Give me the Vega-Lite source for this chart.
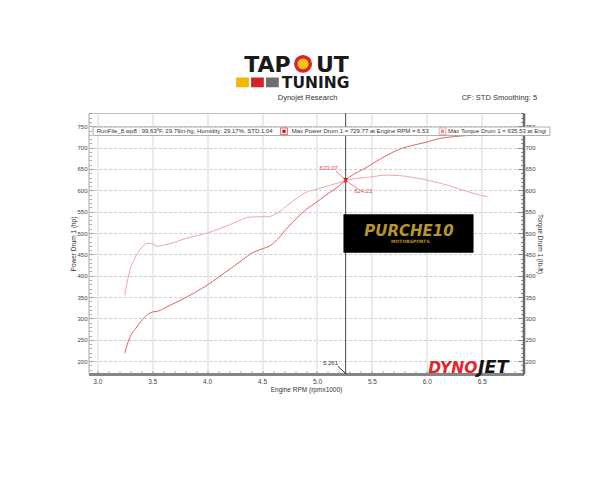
{
  "$schema": "https://vega.github.io/schema/vega-lite/v6.json",
  "width": 435,
  "height": 261,
  "autosize": "none",
  "padding": {"left": 88.5, "top": 113, "right": 76.5, "bottom": 109},
  "background": "white",
  "config": {"view": {"stroke": "#c4c4c4", "strokeWidth": 1}, "font": "Liberation Sans"},
  "datasets": {
    "power": [
      {"rpm": 3.25, "hp": 219}, {"rpm": 3.29, "hp": 252}, {"rpm": 3.36, "hp": 280}, {"rpm": 3.43, "hp": 303},
      {"rpm": 3.5, "hp": 315}, {"rpm": 3.55, "hp": 317}, {"rpm": 3.64, "hp": 328}, {"rpm": 3.76, "hp": 343},
      {"rpm": 3.89, "hp": 361}, {"rpm": 4.0, "hp": 378}, {"rpm": 4.1, "hp": 396}, {"rpm": 4.22, "hp": 418},
      {"rpm": 4.31, "hp": 435}, {"rpm": 4.4, "hp": 452}, {"rpm": 4.49, "hp": 462}, {"rpm": 4.57, "hp": 470},
      {"rpm": 4.64, "hp": 485}, {"rpm": 4.73, "hp": 512}, {"rpm": 4.82, "hp": 536}, {"rpm": 4.9, "hp": 555},
      {"rpm": 5.0, "hp": 573}, {"rpm": 5.11, "hp": 594}, {"rpm": 5.2, "hp": 610}, {"rpm": 5.261, "hp": 624.22},
      {"rpm": 5.33, "hp": 637}, {"rpm": 5.42, "hp": 649}, {"rpm": 5.51, "hp": 663}, {"rpm": 5.63, "hp": 681},
      {"rpm": 5.75, "hp": 696}, {"rpm": 5.9, "hp": 707}, {"rpm": 6.0, "hp": 713}, {"rpm": 6.11, "hp": 721},
      {"rpm": 6.26, "hp": 726}, {"rpm": 6.42, "hp": 729}, {"rpm": 6.53, "hp": 729.77}, {"rpm": 6.55, "hp": 729.5}
    ],
    "torque": [
      {"rpm": 3.25, "tq": 354}, {"rpm": 3.28, "tq": 395}, {"rpm": 3.3, "tq": 415}, {"rpm": 3.34, "tq": 440},
      {"rpm": 3.4, "tq": 465}, {"rpm": 3.46, "tq": 476}, {"rpm": 3.5, "tq": 475}, {"rpm": 3.55, "tq": 469},
      {"rpm": 3.61, "tq": 472}, {"rpm": 3.7, "tq": 478}, {"rpm": 3.79, "tq": 486}, {"rpm": 3.89, "tq": 493},
      {"rpm": 4.0, "tq": 500}, {"rpm": 4.1, "tq": 509}, {"rpm": 4.22, "tq": 521}, {"rpm": 4.31, "tq": 531},
      {"rpm": 4.37, "tq": 537}, {"rpm": 4.46, "tq": 538}, {"rpm": 4.55, "tq": 538}, {"rpm": 4.64, "tq": 547},
      {"rpm": 4.73, "tq": 565}, {"rpm": 4.82, "tq": 582}, {"rpm": 4.9, "tq": 595}, {"rpm": 5.0, "tq": 603},
      {"rpm": 5.11, "tq": 611}, {"rpm": 5.2, "tq": 618}, {"rpm": 5.261, "tq": 623.07}, {"rpm": 5.36, "tq": 628},
      {"rpm": 5.48, "tq": 631}, {"rpm": 5.63, "tq": 635.53}, {"rpm": 5.75, "tq": 634.5}, {"rpm": 5.9, "tq": 629},
      {"rpm": 6.05, "tq": 621}, {"rpm": 6.2, "tq": 611}, {"rpm": 6.36, "tq": 598}, {"rpm": 6.45, "tq": 591},
      {"rpm": 6.55, "tq": 585}
    ]
  },
  "layer": [
    {
      "data": {"name": "power"},
      "mark": {"type": "line", "color": "#e06262", "strokeWidth": 1, "interpolate": "monotone"},
      "encoding": {
        "x": {
          "field": "rpm", "type": "quantitative",
          "scale": {"domain": [2.92, 6.88], "nice": false, "zero": false},
          "axis": {
            "orient": "bottom",
            "values": [3.0,3.1,3.2,3.3,3.4,3.5,3.6,3.7,3.8,3.9,4.0,4.1,4.2,4.3,4.4,4.5,4.6,4.7,4.8,4.9,5.0,5.1,5.2,5.3,5.4,5.5,5.6,5.7,5.8,5.9,6.0,6.1,6.2,6.3,6.4,6.5,6.6,6.7,6.8],
            "tickCount": 200,
            "format": ".1f",
            "labelExpr": "abs(datum.value * 2 - round(datum.value * 2)) < 0.01 ? datum.label : ''",
            "labelOverlap": false, "labelFlush": false,
            "labelFontSize": 6.5, "labelColor": "#444", "labelPadding": 7,
            "tickSize": -3, "tickColor": "#777", "tickWidth": 0.8,
            "domainColor": "#858585", "domainWidth": 3,
            "grid": true, "gridColor": "#d6d6d6", "gridWidth": 1,
            "gridOpacity": {"condition": {"test": "abs(datum.value * 2 - round(datum.value * 2)) < 0.01", "value": 1}, "value": 0},
            "title": "Engine RPM (rpmx1000)", "titleFontSize": 6.5, "titleFontWeight": "normal", "titleColor": "#333", "titlePadding": 1.5
          }
        },
        "y": {
          "field": "hp", "type": "quantitative",
          "scale": {"domain": [170, 781], "nice": false, "zero": false},
          "axis": {
            "orient": "left",
            "values": [180,190,200,210,220,230,240,250,260,270,280,290,300,310,320,330,340,350,360,370,380,390,400,410,420,430,440,450,460,470,480,490,500,510,520,530,540,550,560,570,580,590,600,610,620,630,640,650,660,670,680,690,700,710,720,730,740,750,760,770,780],
            "tickCount": 200,
            "labelExpr": "datum.value % 50 === 0 ? datum.value : ''",
            "labelOverlap": false, "labelFlush": false,
            "labelFontSize": 6, "labelColor": "#444", "labelPadding": 6.5,
            "tickSize": {"condition": {"test": "datum.value % 50 === 0", "value": -5}, "value": -3},
            "tickColor": "#999", "tickWidth": 0.8,
            "domainColor": "#c4c4c4", "domainWidth": 1,
            "grid": true, "gridColor": "#cfcfcf", "gridDash": [3, 2], "gridWidth": 1,
            "gridOpacity": {"condition": {"test": "datum.value % 50 === 0", "value": 1}, "value": 0},
            "title": "Power Drum 1 (hp)", "titleFontSize": 6.5, "titleFontWeight": "normal", "titleColor": "#333", "titlePadding": 0.5
          }
        }
      }
    },
    {
      "data": {"name": "torque"},
      "mark": {"type": "line", "color": "#f2a4a4", "strokeWidth": 1, "interpolate": "monotone"},
      "encoding": {
        "x": {"field": "rpm", "type": "quantitative"},
        "y": {
          "field": "tq", "type": "quantitative",
          "axis": {
            "orient": "right",
            "values": [180,190,200,210,220,230,240,250,260,270,280,290,300,310,320,330,340,350,360,370,380,390,400,410,420,430,440,450,460,470,480,490,500,510,520,530,540,550,560,570,580,590,600,610,620,630,640,650,660,670,680,690,700,710,720,730,740,750,760,770,780],
            "tickCount": 200,
            "labelExpr": "datum.value % 50 === 0 ? datum.value : ''",
            "labelOverlap": false, "labelFlush": false,
            "labelFontSize": 6, "labelColor": "#444", "labelPadding": 7.5,
            "tickSize": {"condition": {"test": "datum.value % 50 === 0", "value": -6}, "value": -3},
            "tickColor": "#777", "tickWidth": 0.8,
            "domainColor": "#6a6a6a", "domainWidth": 2.5,
            "grid": false,
            "title": "Torque Drum 1 (lb-ft)", "titleFontSize": 6.5, "titleFontWeight": "normal", "titleColor": "#333", "titlePadding": 1
          }
        }
      }
    },
    {
      "data": {"values": [{"rpm": 5.261}]},
      "mark": {"type": "rule", "color": "#4a4a4a", "strokeWidth": 1},
      "encoding": {"x": {"field": "rpm", "type": "quantitative"}}
    },
    {
      "data": {"name": "power"},
      "transform": [{"filter": "datum.rpm === 5.261"}],
      "mark": {"type": "point", "shape": "triangle-down", "filled": true, "color": "#e00000", "size": 22, "opacity": 1},
      "encoding": {
        "x": {"field": "rpm", "type": "quantitative"},
        "y": {"field": "hp", "type": "quantitative", "axis": null}
      }
    },
    {
      "data": {"name": "torque"},
      "transform": [{"filter": "datum.rpm === 5.261"}],
      "mark": {"type": "point", "shape": "triangle-up", "filled": true, "color": "#e03030", "size": 22, "opacity": 1},
      "encoding": {
        "x": {"field": "rpm", "type": "quantitative"},
        "y": {"field": "tq", "type": "quantitative", "axis": null}
      }
    },
    {
      "data": {"values": [{"t": "623.07"}]},
      "mark": {"type": "text", "color": "#e04848", "fontSize": 6, "align": "center", "baseline": "middle"},
      "encoding": {
        "x": {"datum": 5.107}, "y": {"datum": 652, "axis": null},
        "text": {"field": "t"}
      }
    },
    {
      "data": {"values": [{"t": "624.22"}]},
      "mark": {"type": "text", "color": "#e04848", "fontSize": 6, "align": "center", "baseline": "middle"},
      "encoding": {
        "x": {"datum": 5.422}, "y": {"datum": 598, "axis": null},
        "text": {"field": "t"}
      }
    },
    {
      "data": {"values": [{}]},
      "mark": {"type": "rule", "color": "#e04848", "strokeWidth": 0.7},
      "encoding": {
        "x": {"datum": 5.173}, "y": {"datum": 645, "axis": null},
        "x2": {"datum": 5.25}, "y2": {"datum": 627}
      }
    },
    {
      "data": {"values": [{}]},
      "mark": {"type": "rule", "color": "#e04848", "strokeWidth": 0.7},
      "encoding": {
        "x": {"datum": 5.29}, "y": {"datum": 618, "axis": null},
        "x2": {"datum": 5.373}, "y2": {"datum": 603}
      }
    },
    {
      "data": {"values": [{"t": "5.261"}]},
      "mark": {"type": "text", "color": "#333", "fontSize": 6, "align": "center", "baseline": "middle"},
      "encoding": {
        "x": {"datum": 5.123}, "y": {"datum": 196.5, "axis": null},
        "text": {"field": "t"}
      }
    },
    {
      "data": {"values": [{}]},
      "mark": {"type": "rule", "color": "#111", "strokeWidth": 0.9},
      "encoding": {
        "x": {"datum": 5.19}, "y": {"datum": 188, "axis": null},
        "x2": {"datum": 5.262}, "y2": {"datum": 171}
      }
    },
    {
      "data": {"values": [{}]},
      "mark": {"type": "rect", "color": "#000000"},
      "encoding": {
        "x": {"datum": 5.241}, "x2": {"datum": 6.425},
        "y": {"datum": 544, "axis": null}, "y2": {"datum": 454}
      }
    },
    {
      "data": {"values": [{"t": "PURCHE10"}]},
      "mark": {"type": "text", "color": "#b8962e", "font": "DejaVu Sans", "fontSize": 15, "fontWeight": "bold", "fontStyle": "italic", "align": "center", "baseline": "alphabetic"},
      "encoding": {
        "x": {"datum": 5.838}, "y": {"datum": 494, "axis": null},
        "text": {"field": "t"}
      }
    },
    {
      "data": {"values": [{"t": "MOTORSPORTS"}]},
      "mark": {"type": "text", "color": "#b8962e", "font": "DejaVu Sans", "fontSize": 4.5, "fontWeight": "bold", "align": "center", "baseline": "alphabetic"},
      "encoding": {
        "x": {"datum": 5.85}, "y": {"datum": 477, "axis": null},
        "text": {"field": "t"}
      }
    },
    {
      "data": {"values": [{"t": "DYNO"}]},
      "mark": {"type": "text", "color": "#e3242b", "font": "DejaVu Sans", "fontSize": 15.5, "fontWeight": "bold", "fontStyle": "italic", "align": "right", "baseline": "alphabetic"},
      "encoding": {
        "x": {"datum": 6.46}, "y": {"datum": 172.5, "axis": null},
        "text": {"field": "t"}
      }
    },
    {
      "data": {"values": [{"t": "JET"}]},
      "mark": {"type": "text", "color": "#151515", "font": "DejaVu Sans", "fontSize": 17.5, "fontWeight": "bold", "fontStyle": "italic", "align": "left", "baseline": "alphabetic"},
      "encoding": {
        "x": {"datum": 6.465}, "y": {"datum": 172.5, "axis": null},
        "text": {"field": "t"}
      }
    },
    {
      "data": {"values": [{}]},
      "mark": {"type": "rect", "fill": "white", "stroke": "#9a9a9a", "strokeWidth": 0.8},
      "encoding": {
        "x": {"datum": 2.961}, "x2": {"datum": 7.121},
        "y": {"datum": 748.2, "axis": null}, "y2": {"datum": 728.3}
      }
    },
    {
      "data": {"values": [{"t": "RunFile_8.wp8  : 99.63ºF, 29.79in-hg, Humidity: 29.17%, STD:1.04"}]},
      "mark": {"type": "text", "color": "#333", "fontSize": 6, "align": "left", "baseline": "middle"},
      "encoding": {
        "x": {"datum": 2.995}, "y": {"datum": 738.2, "axis": null},
        "text": {"field": "t"}
      }
    },
    {
      "data": {"values": [{}]},
      "mark": {"type": "point", "shape": "square", "filled": true, "fill": "white", "stroke": "#e04040", "strokeWidth": 0.8, "size": 45, "opacity": 1},
      "encoding": {"x": {"datum": 4.70}, "y": {"datum": 738.2, "axis": null}}
    },
    {
      "data": {"values": [{}]},
      "mark": {"type": "point", "shape": "square", "filled": true, "color": "#e00000", "size": 10, "opacity": 1},
      "encoding": {"x": {"datum": 4.70}, "y": {"datum": 738.2, "axis": null}}
    },
    {
      "data": {"values": [{"t": "Max Power Drum 1 = 729.77 at Engine RPM = 6.53"}]},
      "mark": {"type": "text", "color": "#333", "fontSize": 6, "align": "left", "baseline": "middle"},
      "encoding": {
        "x": {"datum": 4.77}, "y": {"datum": 738.2, "axis": null},
        "text": {"field": "t"}
      }
    },
    {
      "data": {"values": [{}]},
      "mark": {"type": "point", "shape": "square", "filled": true, "fill": "white", "stroke": "#f09090", "strokeWidth": 0.8, "size": 45, "opacity": 1},
      "encoding": {"x": {"datum": 6.143}, "y": {"datum": 738.2, "axis": null}}
    },
    {
      "data": {"values": [{}]},
      "mark": {"type": "point", "shape": "square", "filled": true, "color": "#f08080", "size": 10, "opacity": 1},
      "encoding": {"x": {"datum": 6.143}, "y": {"datum": 738.2, "axis": null}}
    },
    {
      "data": {"values": [{"t": "Max Torque Drum 1 = 635.53 at Engine RPM = 5.63"}]},
      "mark": {"type": "text", "color": "#333", "fontSize": 6, "align": "left", "baseline": "middle", "limit": 101, "ellipsis": "\u200b"},
      "encoding": {
        "x": {"datum": 6.193}, "y": {"datum": 738.2, "axis": null},
        "text": {"field": "t"}
      }
    },
    {
      "data": {"values": [{"t": "TAP"}]},
      "mark": {"type": "text", "color": "#1a1a1a", "font": "DejaVu Sans", "fontSize": 22, "fontWeight": "bold", "align": "right", "baseline": "alphabetic"},
      "encoding": {
        "x": {"datum": 4.76}, "y": {"datum": 878, "axis": null},
        "text": {"field": "t"}
      }
    },
    {
      "data": {"values": [{}]},
      "mark": {"type": "point", "shape": "circle", "filled": true, "fill": "#f6c21a", "stroke": "#d8262c", "strokeWidth": 3.5, "size": 210, "opacity": 1},
      "encoding": {"x": {"datum": 4.873}, "y": {"datum": 896, "axis": null}}
    },
    {
      "data": {"values": [{"t": "UT"}]},
      "mark": {"type": "text", "color": "#1a1a1a", "font": "DejaVu Sans", "fontSize": 22, "fontWeight": "bold", "align": "left", "baseline": "alphabetic"},
      "encoding": {
        "x": {"datum": 4.99}, "y": {"datum": 878, "axis": null},
        "text": {"field": "t"}
      }
    },
    {
      "data": {"values": [{}]},
      "mark": {"type": "rect", "color": "#f2b705"},
      "encoding": {
        "x": {"datum": 4.264}, "x2": {"datum": 4.38},
        "y": {"datum": 864, "axis": null}, "y2": {"datum": 841}
      }
    },
    {
      "data": {"values": [{}]},
      "mark": {"type": "rect", "color": "#d42027"},
      "encoding": {
        "x": {"datum": 4.40}, "x2": {"datum": 4.516},
        "y": {"datum": 864, "axis": null}, "y2": {"datum": 841}
      }
    },
    {
      "data": {"values": [{}]},
      "mark": {"type": "rect", "color": "#6e6e6e"},
      "encoding": {
        "x": {"datum": 4.536}, "x2": {"datum": 4.652},
        "y": {"datum": 864, "axis": null}, "y2": {"datum": 841}
      }
    },
    {
      "data": {"values": [{"t": "TUNING"}]},
      "mark": {"type": "text", "color": "#1a1a1a", "font": "DejaVu Sans", "fontSize": 15.5, "fontWeight": "bold", "align": "left", "baseline": "alphabetic"},
      "encoding": {
        "x": {"datum": 4.68}, "y": {"datum": 840.5, "axis": null},
        "text": {"field": "t"}
      }
    },
    {
      "data": {"values": [{"t": "Dynojet Research"}]},
      "mark": {"type": "text", "color": "#333", "fontSize": 7.5, "align": "center", "baseline": "middle"},
      "encoding": {
        "x": {"datum": 4.914}, "y": {"datum": 816, "axis": null},
        "text": {"field": "t"}
      }
    },
    {
      "data": {"values": [{"t": "CF: STD Smoothing: 5"}]},
      "mark": {"type": "text", "color": "#333", "fontSize": 7.5, "align": "left", "baseline": "middle"},
      "encoding": {
        "x": {"datum": 6.317}, "y": {"datum": 816, "axis": null},
        "text": {"field": "t"}
      }
    }
  ],
  "resolve": {"axis": {"y": "independent"}}
}
